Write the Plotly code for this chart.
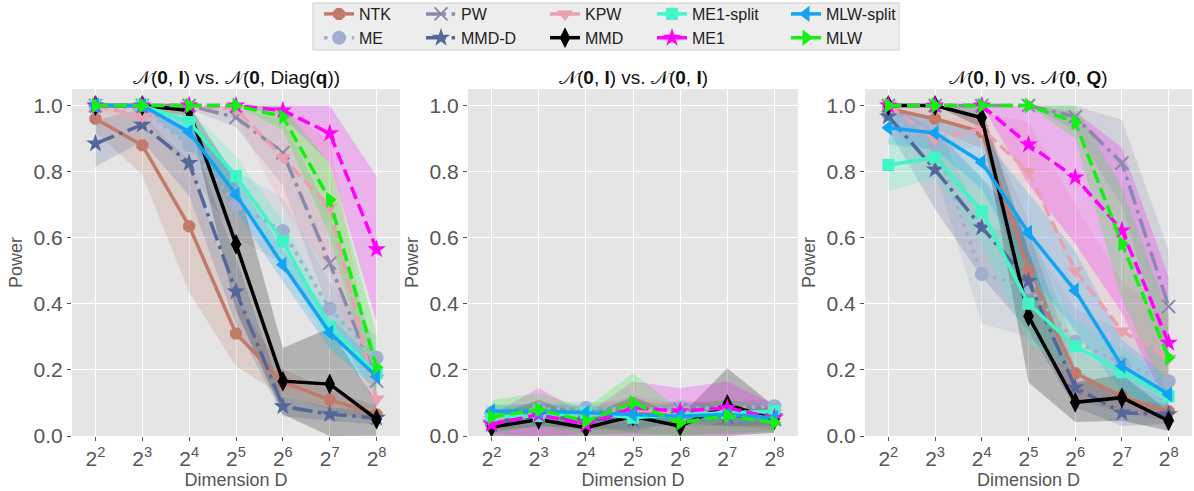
import math
import plotly.graph_objects as go

# ---------------- data ----------------
DIMENSIONS = [4, 8, 16, 32, 64, 128, 256]
TICK_TEXT = ["2<sup>2</sup>", "2<sup>3</sup>", "2<sup>4</sup>", "2<sup>5</sup>",
             "2<sup>6</sup>", "2<sup>7</sup>", "2<sup>8</sup>"]
Y_TICKS = [0.0, 0.2, 0.4, 0.6, 0.8, 1.0]
METHODS = ["NTK", "ME", "PW", "MMD-D", "KPW", "MMD", "ME1-split", "ME1", "MLW-split", "MLW"]
PANEL_TITLES = [
    "𝒩(<b>0</b>, <b>I</b>) vs. 𝒩(<b>0</b>, Diag(<b>q</b>))",
    "𝒩(<b>0</b>, <b>I</b>) vs. 𝒩(<b>0</b>, <b>I</b>)",
    "𝒩(<b>0</b>, <b>I</b>) vs. 𝒩(<b>0</b>, <b>Q</b>)",
]

# power, panel 1: N(0,I) vs N(0,Diag(q))
POWER_DIAG = {
    "NTK":       [0.96, 0.88, 0.635, 0.31, 0.163, 0.11, 0.065],
    "ME":        [1.0, 0.99, 0.88, 0.70, 0.62, 0.385, 0.237],
    "PW":        [1.0, 1.0, 1.0, 0.964, 0.857, 0.523, 0.166],
    "MMD-D":     [0.885, 0.942, 0.826, 0.437, 0.09, 0.066, 0.055],
    "KPW":       [1.0, 0.967, 1.0, 0.99, 0.843, 0.693, 0.112],
    "MMD":       [1.0, 1.0, 0.985, 0.58, 0.166, 0.157, 0.051],
    "ME1-split": [1.0, 1.0, 0.95, 0.786, 0.589, 0.33, 0.19],
    "ME1":       [1.0, 1.0, 1.0, 1.0, 0.985, 0.916, 0.565],
    "MLW-split": [1.0, 1.0, 0.92, 0.73, 0.518, 0.313, 0.18],
    "MLW":       [1.0, 1.0, 1.0, 1.0, 0.966, 0.715, 0.208],
}
SPREAD_DIAG = {
    "NTK":       [0.04, 0.09, 0.2, 0.1, 0.04, 0.03, 0.025],
    "ME":        [0.01, 0.02, 0.08, 0.1, 0.1, 0.08, 0.06],
    "PW":        [0.005, 0.005, 0.01, 0.03, 0.1, 0.15, 0.08],
    "MMD-D":     [0.07, 0.05, 0.1, 0.1, 0.03, 0.02, 0.02],
    "KPW":       [0.01, 0.03, 0.01, 0.03, 0.15, 0.2, 0.05],
    "MMD":       [0.005, 0.005, 0.02, 0.2, 0.1, 0.17, 0.05],
    "ME1-split": [0.005, 0.005, 0.04, 0.06, 0.06, 0.06, 0.05],
    "ME1":       [0.0, 0.0, 0.0, 0.0, 0.02, 0.09, 0.22],
    "MLW-split": [0.005, 0.005, 0.04, 0.05, 0.05, 0.05, 0.04],
    "MLW":       [0.0, 0.0, 0.0, 0.0, 0.04, 0.11, 0.1],
}

# power, panel 2: N(0,I) vs N(0,I)
POWER_NULL = {
    "NTK":       [0.05, 0.06, 0.05, 0.07, 0.06, 0.07, 0.06],
    "ME":        [0.07, 0.08, 0.085, 0.08, 0.085, 0.085, 0.09],
    "PW":        [0.05, 0.06, 0.06, 0.04, 0.08, 0.06, 0.05],
    "MMD-D":     [0.04, 0.06, 0.05, 0.05, 0.07, 0.06, 0.06],
    "KPW":       [0.05, 0.07, 0.06, 0.08, 0.07, 0.07, 0.07],
    "MMD":       [0.027, 0.05, 0.025, 0.06, 0.03, 0.095, 0.05],
    "ME1-split": [0.06, 0.06, 0.07, 0.055, 0.065, 0.07, 0.075],
    "ME1":       [0.035, 0.065, 0.035, 0.085, 0.075, 0.085, 0.055],
    "MLW-split": [0.075, 0.075, 0.07, 0.065, 0.06, 0.065, 0.055],
    "MLW":       [0.058, 0.08, 0.045, 0.10, 0.04, 0.062, 0.04],
}
SPREAD_NULL = {
    "NTK":       [0.03, 0.03, 0.03, 0.04, 0.03, 0.04, 0.03],
    "ME":        [0.02, 0.02, 0.02, 0.02, 0.02, 0.02, 0.02],
    "PW":        [0.03, 0.03, 0.03, 0.03, 0.03, 0.03, 0.03],
    "MMD-D":     [0.03, 0.03, 0.03, 0.03, 0.03, 0.03, 0.03],
    "KPW":       [0.03, 0.03, 0.03, 0.04, 0.03, 0.03, 0.03],
    "MMD":       [0.03, 0.06, 0.03, 0.06, 0.03, 0.11, 0.04],
    "ME1-split": [0.03, 0.03, 0.03, 0.03, 0.03, 0.03, 0.03],
    "ME1":       [0.03, 0.08, 0.03, 0.08, 0.07, 0.08, 0.04],
    "MLW-split": [0.02, 0.02, 0.02, 0.02, 0.02, 0.02, 0.02],
    "MLW":       [0.05, 0.05, 0.04, 0.09, 0.04, 0.05, 0.03],
}

# power, panel 3: N(0,I) vs N(0,Q)
POWER_Q = {
    "NTK":       [0.99, 0.96, 0.92, 0.50, 0.19, 0.12, 0.075],
    "ME":        [0.975, 0.88, 0.49, 0.45, 0.285, 0.22, 0.166],
    "PW":        [1.0, 1.0, 1.0, 1.0, 0.966, 0.826, 0.392],
    "MMD-D":     [0.967, 0.806, 0.631, 0.469, 0.147, 0.07, 0.066],
    "KPW":       [1.0, 0.90, 0.93, 0.80, 0.50, 0.318, 0.235],
    "MMD":       [1.0, 1.0, 0.963, 0.362, 0.102, 0.116, 0.046],
    "ME1-split": [0.82, 0.843, 0.68, 0.40, 0.272, 0.193, 0.12],
    "ME1":       [1.0, 1.0, 1.0, 0.882, 0.782, 0.622, 0.282],
    "MLW-split": [0.933, 0.917, 0.828, 0.615, 0.44, 0.212, 0.126],
    "MLW":       [1.0, 1.0, 1.0, 1.0, 0.95, 0.582, 0.237],
}
SPREAD_Q = {
    "NTK":       [0.01, 0.03, 0.05, 0.15, 0.08, 0.05, 0.03],
    "ME":        [0.03, 0.08, 0.15, 0.15, 0.1, 0.1, 0.08],
    "PW":        [0.0, 0.0, 0.0, 0.0, 0.04, 0.13, 0.17],
    "MMD-D":     [0.04, 0.12, 0.15, 0.15, 0.06, 0.04, 0.03],
    "KPW":       [0.01, 0.05, 0.05, 0.15, 0.2, 0.15, 0.12],
    "MMD":       [0.0, 0.0, 0.03, 0.2, 0.06, 0.07, 0.03],
    "ME1-split": [0.08, 0.06, 0.1, 0.12, 0.08, 0.07, 0.05],
    "ME1":       [0.0, 0.0, 0.0, 0.12, 0.2, 0.25, 0.2],
    "MLW-split": [0.05, 0.05, 0.08, 0.12, 0.12, 0.08, 0.05],
    "MLW":       [0.0, 0.0, 0.0, 0.0, 0.05, 0.17, 0.13],
}

PANELS = [(POWER_DIAG, SPREAD_DIAG), (POWER_NULL, SPREAD_NULL), (POWER_Q, SPREAD_Q)]

# ---------------- styles ----------------
DOT = "3.5px,5.8px"
DASH = "13px,5.6px"
DASHDOT = "20px,5.6px,3.5px,5.6px"
STYLE = {
    "NTK":       dict(color="#C27A6B", dash="solid", symbol="octagon", size=13, legend="legend"),
    "ME":        dict(color="#A1AFCE", dash=DOT, symbol="circle", size=14, legend="legend"),
    "PW":        dict(color="#8A8AAC", dash=DASHDOT, symbol="x-thin", size=13, legend="legend2"),
    "MMD-D":     dict(color="#55679A", dash=DASHDOT, symbol="star", size=14, legend="legend2"),
    "KPW":       dict(color="#EBA0B1", dash=DASH, symbol="triangle-down", size=14, legend="legend3"),
    "MMD":       dict(color="#000000", dash="solid", symbol="diamond-tall", size=15, legend="legend3"),
    "ME1-split": dict(color="#40F5C6", dash="solid", symbol="square", size=12, legend="legend4"),
    "ME1":       dict(color="#FF00FF", dash=DASH, symbol="star", size=14, legend="legend4"),
    "MLW-split": dict(color="#12A3F3", dash="solid", symbol="triangle-left", size=14, legend="legend5"),
    "MLW":       dict(color="#14F014", dash=DASH, symbol="triangle-right", size=14, legend="legend5"),
}


def rgba(hex_color, a):
    h = hex_color.lstrip("#")
    r, g, b = int(h[0:2], 16), int(h[2:4], 16), int(h[4:6], 16)
    return f"rgba({r},{g},{b},{a})"


# ---------------- geometry (pixels) ----------------
W, H = 1194, 491
ML, MR, MT, MB = 72, 2, 89, 55
PLOT_W = W - ML - MR
PLOT_H = H - MT - MB
PANEL_PX = [(72, 400), (468, 798), (865, 1192)]


def px_x(px):
    return (px - ML) / PLOT_W


def px_y(py):
    return (H - MB - py) / PLOT_H


fig = go.Figure()

for p, (power, spread) in enumerate(PANELS):
    ax = "" if p == 0 else str(p + 1)
    # shaded bands first
    for m in METHODS:
        v = power[m]
        s = spread[m]
        lo = [max(0.0, a - b) for a, b in zip(v, s)]
        hi = [min(1.0, a + b) for a, b in zip(v, s)]
        st = STYLE[m]
        fig.add_trace(go.Scatter(
            x=DIMENSIONS + DIMENSIONS[::-1], y=hi + lo[::-1],
            fill="toself", fillcolor=rgba(st["color"], 0.22),
            line=dict(width=0, color="rgba(0,0,0,0)"), mode="lines",
            hoverinfo="skip", showlegend=False,
            xaxis="x" + ax, yaxis="y" + ax))
    for m in METHODS:
        st = STYLE[m]
        is_x = st["symbol"] == "x-thin"
        fig.add_trace(go.Scatter(
            x=DIMENSIONS, y=power[m], name=m, mode="lines+markers",
            line=dict(color=st["color"], width=3.5, dash=st["dash"]),
            marker=dict(symbol=st["symbol"], size=st["size"], color=st["color"],
                        line=dict(width=2 if is_x else 0, color=st["color"])),
            showlegend=(p == 0), legend=st["legend"],
            xaxis="x" + ax, yaxis="y" + ax))

FONT = "Liberation Sans, Arial, sans-serif"
TICK_COLOR = "#555555"
layout = dict(
    width=W, height=H,
    margin=dict(l=ML, r=MR, t=MT, b=MB, autoexpand=False),
    paper_bgcolor="white", plot_bgcolor="#E5E5E5",
    font=dict(family=FONT, color="#222222"),
)

xr = [math.log10(2 ** 1.5), math.log10(2 ** 8.5)]
annotations = []
for p, (a, b) in enumerate(PANEL_PX):
    ax = "" if p == 0 else str(p + 1)
    layout["xaxis" + ax] = dict(
        domain=[px_x(a), px_x(b)], type="log", range=xr, anchor="y" + ax,
        tickvals=DIMENSIONS, ticktext=TICK_TEXT,
        tickfont=dict(size=21, color=TICK_COLOR, family=FONT),
        ticks="outside", ticklen=4, tickcolor=TICK_COLOR,
        showgrid=True, gridcolor="white", gridwidth=1, zeroline=False, showline=False,
        title=dict(text="Dimension D", font=dict(size=18, color=TICK_COLOR, family=FONT), standoff=2),
        automargin=False,
    )
    layout["yaxis" + ax] = dict(
        domain=[0, 1], range=[0, 1.05], anchor="x" + ax,
        tickvals=Y_TICKS, ticktext=[f"{t:.1f}" for t in Y_TICKS],
        tickfont=dict(size=21, color=TICK_COLOR, family=FONT),
        ticks="outside", ticklen=4, tickcolor=TICK_COLOR,
        showgrid=True, gridcolor="white", gridwidth=1, zeroline=False, showline=False,
        title=dict(text="Power", font=dict(size=18, color=TICK_COLOR, family=FONT), standoff=6),
        automargin=False,
    )
    annotations.append(dict(
        text=PANEL_TITLES[p], xref="paper", yref="paper",
        x=(px_x(a) + px_x(b)) / 2, y=px_y(77), xanchor="center", yanchor="middle",
        showarrow=False, font=dict(size=19, color="#111111", family=FONT)))
layout["annotations"] = annotations

# legend frame
layout["shapes"] = [dict(
    type="rect", xref="paper", yref="paper",
    x0=px_x(313), x1=px_x(899), y0=px_y(50), y1=px_y(3),
    fillcolor="#EDEDED", line=dict(color="#CCCCCC", width=1), layer="below")]

# left edge of each legend column (text starts 40px to the right)
LEGEND_LEFT = {"legend": 319, "legend2": 421, "legend3": 545, "legend4": 652, "legend5": 786}
for key, left in LEGEND_LEFT.items():
    layout[key] = dict(
        x=px_x(left), y=px_y(-3), xanchor="left", yanchor="top",
        orientation="v", bgcolor="rgba(0,0,0,0)", borderwidth=0,
        font=dict(size=16, color="#222222", family=FONT), itemwidth=30,
        tracegroupgap=0)

fig.update_layout(**layout)
fig.write_html("out.html")
